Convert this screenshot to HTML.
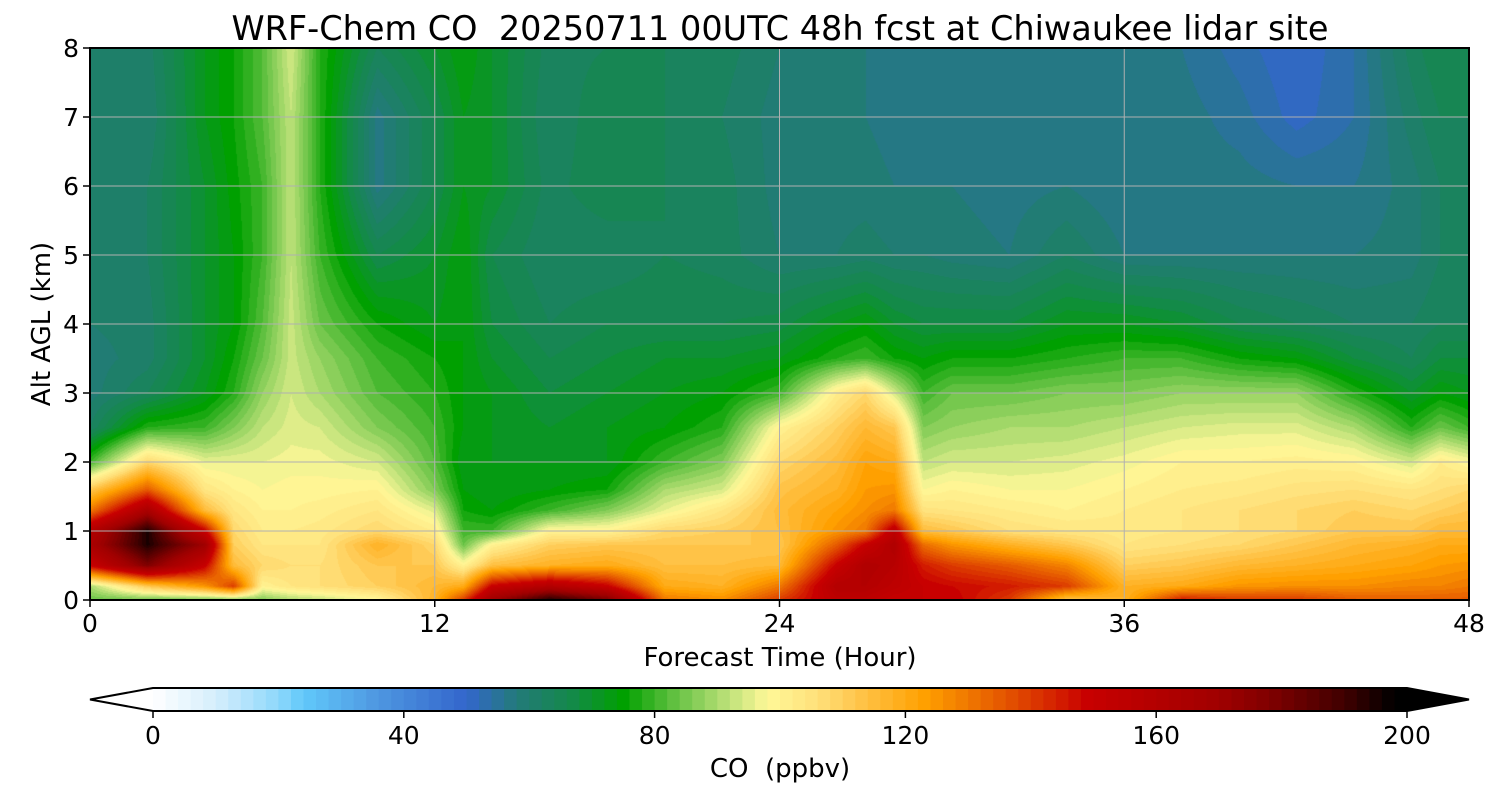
<!DOCTYPE html>
<html><head><meta charset="utf-8"><style>
body{margin:0;background:#fff;width:1500px;height:800px;overflow:hidden;font-family:"DejaVu Sans","Liberation Sans",sans-serif}
#wrap{position:relative;width:1500px;height:800px}
canvas{position:absolute;left:90px;top:48px}
svg{position:absolute;left:0;top:0;font-family:"DejaVu Sans","Liberation Sans",sans-serif}
svg text{white-space:pre}
</style></head><body>
<div id="wrap">
<canvas id="cv" width="1379" height="552"></canvas>
<svg id="sv" width="1500" height="800"></svg>
</div>
<script>
const times=[0,2,4,5,6,7,8,10,12,13,14,16,18,20,22,24,26,27,28,29,30,32,34,36,38,40,42,44,46,47,48];
const heights=[0,0.2,0.5,0.8,1.0,1.3,1.6,2.0,2.5,3,3.5,4,5,6,7,8];
const coValues=[
[84,90,150,165,160,130,112,80,62,59,59,60,61,62,61,61],
[84,112,178,195,195,165,135,108,78,64,61,61,62,62,60,61],
[84,125,150,170,150,115,104,96,80,72,70,70,70,70,72,72],
[85,140,115,110,108,104,100,96,86,78,76,74,74,75,76,76],
[86,100,108,104,102,100,98,96,92,88,84,82,80,80,82,82],
[90,104,106,104,102,100,99,97,95,94,93,93,92,92,92,94],
[92,106,106,104,103,101,99,97,94,90,88,84,80,78,78,78],
[98,110,112,118,108,104,100,94,86,82,80,76,66,57,57,64],
[118,116,112,108,102,95,86,82,80,78,76,72,70,66,66,70],
[140,120,100,84,80,76,74,72,74,74,74,74,74,72,72,74],
[170,150,114,100,80,74,72,72,72,72,70,68,66,70,70,70],
[195,160,118,110,100,80,74,72,70,68,66,64,62,63,62,63],
[180,150,120,112,100,86,76,72,72,70,68,66,62,66,66,64],
[130,120,114,112,108,96,90,80,74,72,70,66,64,64,64,64],
[126,118,114,112,110,104,94,86,78,74,70,66,63,63,62,63],
[140,130,116,112,114,115,113,108,100,80,72,67,60,59,59,60],
[155,160,150,135,125,122,118,115,110,102,78,72,60,59,59,59],
[155,160,162,150,130,126,124,122,116,108,80,74,61,59,58,58],
[150,155,158,162,155,130,125,120,112,94,76,70,60,58,57,58],
[150,150,145,132,115,105,98,92,86,80,74,68,60,58,57,58],
[150,148,140,125,112,104,100,94,88,84,76,68,59,58,57,57],
[140,145,135,118,106,102,98,94,90,84,76,68,58,57,57,57],
[112,140,128,112,104,100,98,95,90,86,78,72,62,58,56,56],
[118,118,110,104,103,102,100,97,92,86,80,72,58,56,56,57],
[145,120,112,106,104,104,102,100,94,88,80,70,58,57,57,56],
[140,125,116,108,106,106,103,100,95,88,76,66,58,57,55,53],
[140,126,118,112,108,108,105,101,95,88,74,64,58,56,51,50],
[135,126,120,116,112,110,106,100,90,78,68,62,58,56,54,54],
[134,128,122,118,112,108,104,94,78,70,64,62,59,59,61,63],
[135,128,124,120,116,110,106,102,84,74,68,64,62,62,64,66],
[135,130,125,120,116,112,108,98,80,72,68,64,62,64,64,66]];
const xTicks=[0,12,24,36,48];
const yTicks=[0,1,2,3,4,5,6,7,8];
const cbTicks=[0,40,80,120,160,200];
const cmapStops=[[0,"#ffffff"],[10,"#d5eefc"],[20,"#8ed8fb"],[24,"#60c8fa"],[36,"#4e96e0"],[50,"#3366cc"],[58,"#237a7a"],[67,"#138a48"],[75,"#00a000"],[84,"#6cc448"],[92,"#bfe27a"],[98,"#fff898"],[106,"#ffe07a"],[114,"#ffbf40"],[123,"#ffa000"],[130,"#f07800"],[138,"#e04800"],[144,"#d42000"],[149,"#c80000"],[170,"#a00000"],[178,"#800000"],[190,"#400000"],[198,"#000000"],[200,"#000000"]];
const X0=90,X1=1469,Y0=600,Y1=48;
const xs=t=>X0+(t/48)*(X1-X0);
const ys=h=>Y0-(h/8)*(Y0-Y1);
function hex(c){return[parseInt(c.substr(1,2),16),parseInt(c.substr(3,2),16),parseInt(c.substr(5,2),16)];}
function cmap(v){
 if(v<=cmapStops[0][0])return hex(cmapStops[0][1]);
 for(let i=1;i<cmapStops.length;i++){if(v<=cmapStops[i][0]){const a=cmapStops[i-1],b=cmapStops[i];const f=(v-a[0])/(b[0]-a[0]);const ca=hex(a[1]),cb=hex(b[1]);return ca.map((x,k)=>Math.round(x+(cb[k]-x)*f));}}
 return[0,0,0];}
function levelColor(v){let l=Math.floor(v/2)*2;l=Math.max(0,Math.min(198,l));return cmap(l+1);}
function idx(arr,v){for(let i=0;i<arr.length-1;i++){if(v<=arr[i+1])return i;}return arr.length-2;}
const cv=document.getElementById('cv'),ctx=cv.getContext('2d');
const W=cv.width,H=cv.height,img=ctx.createImageData(W,H);
for(let py=0;py<H;py++){
 const h=(H-0.5-py)/H*8;const j=idx(heights,h);const fy=(h-heights[j])/(heights[j+1]-heights[j]);
 for(let px=0;px<W;px++){
  const t=(px+0.5)/W*48;const i=idx(times,t);const fx=(t-times[i])/(times[i+1]-times[i]);
  const v=(coValues[i][j]*(1-fx)+coValues[i+1][j]*fx)*(1-fy)+(coValues[i][j+1]*(1-fx)+coValues[i+1][j+1]*fx)*fy;
  const c=levelColor(v);const o=(py*W+px)*4;img.data[o]=c[0];img.data[o+1]=c[1];img.data[o+2]=c[2];img.data[o+3]=255;}}
ctx.putImageData(img,0,0);
const NS='http://www.w3.org/2000/svg',sv=document.getElementById('sv');
function mk(tag,a,txt){const e=document.createElementNS(NS,tag);for(const k in a)e.setAttribute(k,a[k]);if(txt!==undefined)e.textContent=txt;sv.appendChild(e);return e;}
xTicks.slice(1,-1).forEach(t=>{const e=mk('line',{x1:xs(t),x2:xs(t),y1:Y1,y2:Y0,stroke:'#b0b0b0','stroke-width':1});

});
yTicks.slice(1,-1).forEach(h=>{const e=mk('line',{x1:X0,x2:X1,y1:ys(h),y2:ys(h),stroke:'#b0b0b0','stroke-width':1});

});
const fr=mk('rect',{x:X0,y:Y1,width:X1-X0,height:Y0-Y1,fill:'none',stroke:'#000','stroke-width':2});


xTicks.forEach(t=>{const l=mk('line',{x1:xs(t),x2:xs(t),y1:Y0,y2:Y0+7,stroke:'#000','stroke-width':1.5});


const e=mk('text',{x:xs(t),y:Y0+32,'text-anchor':'middle','font-size':25},String(t));

});
yTicks.forEach(h=>{const l=mk('line',{x1:X0-7,x2:X0,y1:ys(h),y2:ys(h),stroke:'#000','stroke-width':1.5});


const e=mk('text',{x:X0-11,y:ys(h)+9,'text-anchor':'end','font-size':25},String(h));

});
let e=mk('text',{x:780,y:40,'text-anchor':'middle','font-size':33.5},'WRF-Chem CO  20250711 00UTC 48h fcst at Chiwaukee lidar site');


e=mk('text',{x:780,y:666,'text-anchor':'middle','font-size':26},'Forecast Time (Hour)');


e=mk('text',{x:0,y:0,'text-anchor':'middle','font-size':26,transform:'translate(50,324) rotate(-90)'},'Alt AGL (km)');


const C0=153,C1=1407,CT=688,CB=711;
const cx=v=>C0+(v/200)*(C1-C0);
for(let l=0;l<200;l+=2){const c=cmap(l+1);const r=mk('rect',{x:cx(l),y:CT,width:cx(l+2)-cx(l)+0.6,height:CB-CT,fill:`rgb(${c[0]},${c[1]},${c[2]})`});

}
e=mk('polygon',{points:`${C0},${CT} 90,${(CT+CB)/2} ${C0},${CB}`,fill:'#fff'});


e=mk('polygon',{points:`${C1},${CT} 1469,${(CT+CB)/2} ${C1},${CB}`,fill:'#000'});


e=mk('polygon',{points:`${C0},${CT} 90,${(CT+CB)/2} ${C0},${CB} ${C1},${CB} 1469,${(CT+CB)/2} ${C1},${CT}`,fill:'none',stroke:'#000','stroke-width':2});


cbTicks.forEach(v=>{const l=mk('line',{x1:cx(v),x2:cx(v),y1:CB,y2:CB+7,stroke:'#000','stroke-width':1.5});


const t=mk('text',{x:cx(v),y:744,'text-anchor':'middle','font-size':25},String(v));

});
e=mk('text',{x:780,y:777,'text-anchor':'middle','font-size':26},'CO  (ppbv)');


</script>
</body></html>
